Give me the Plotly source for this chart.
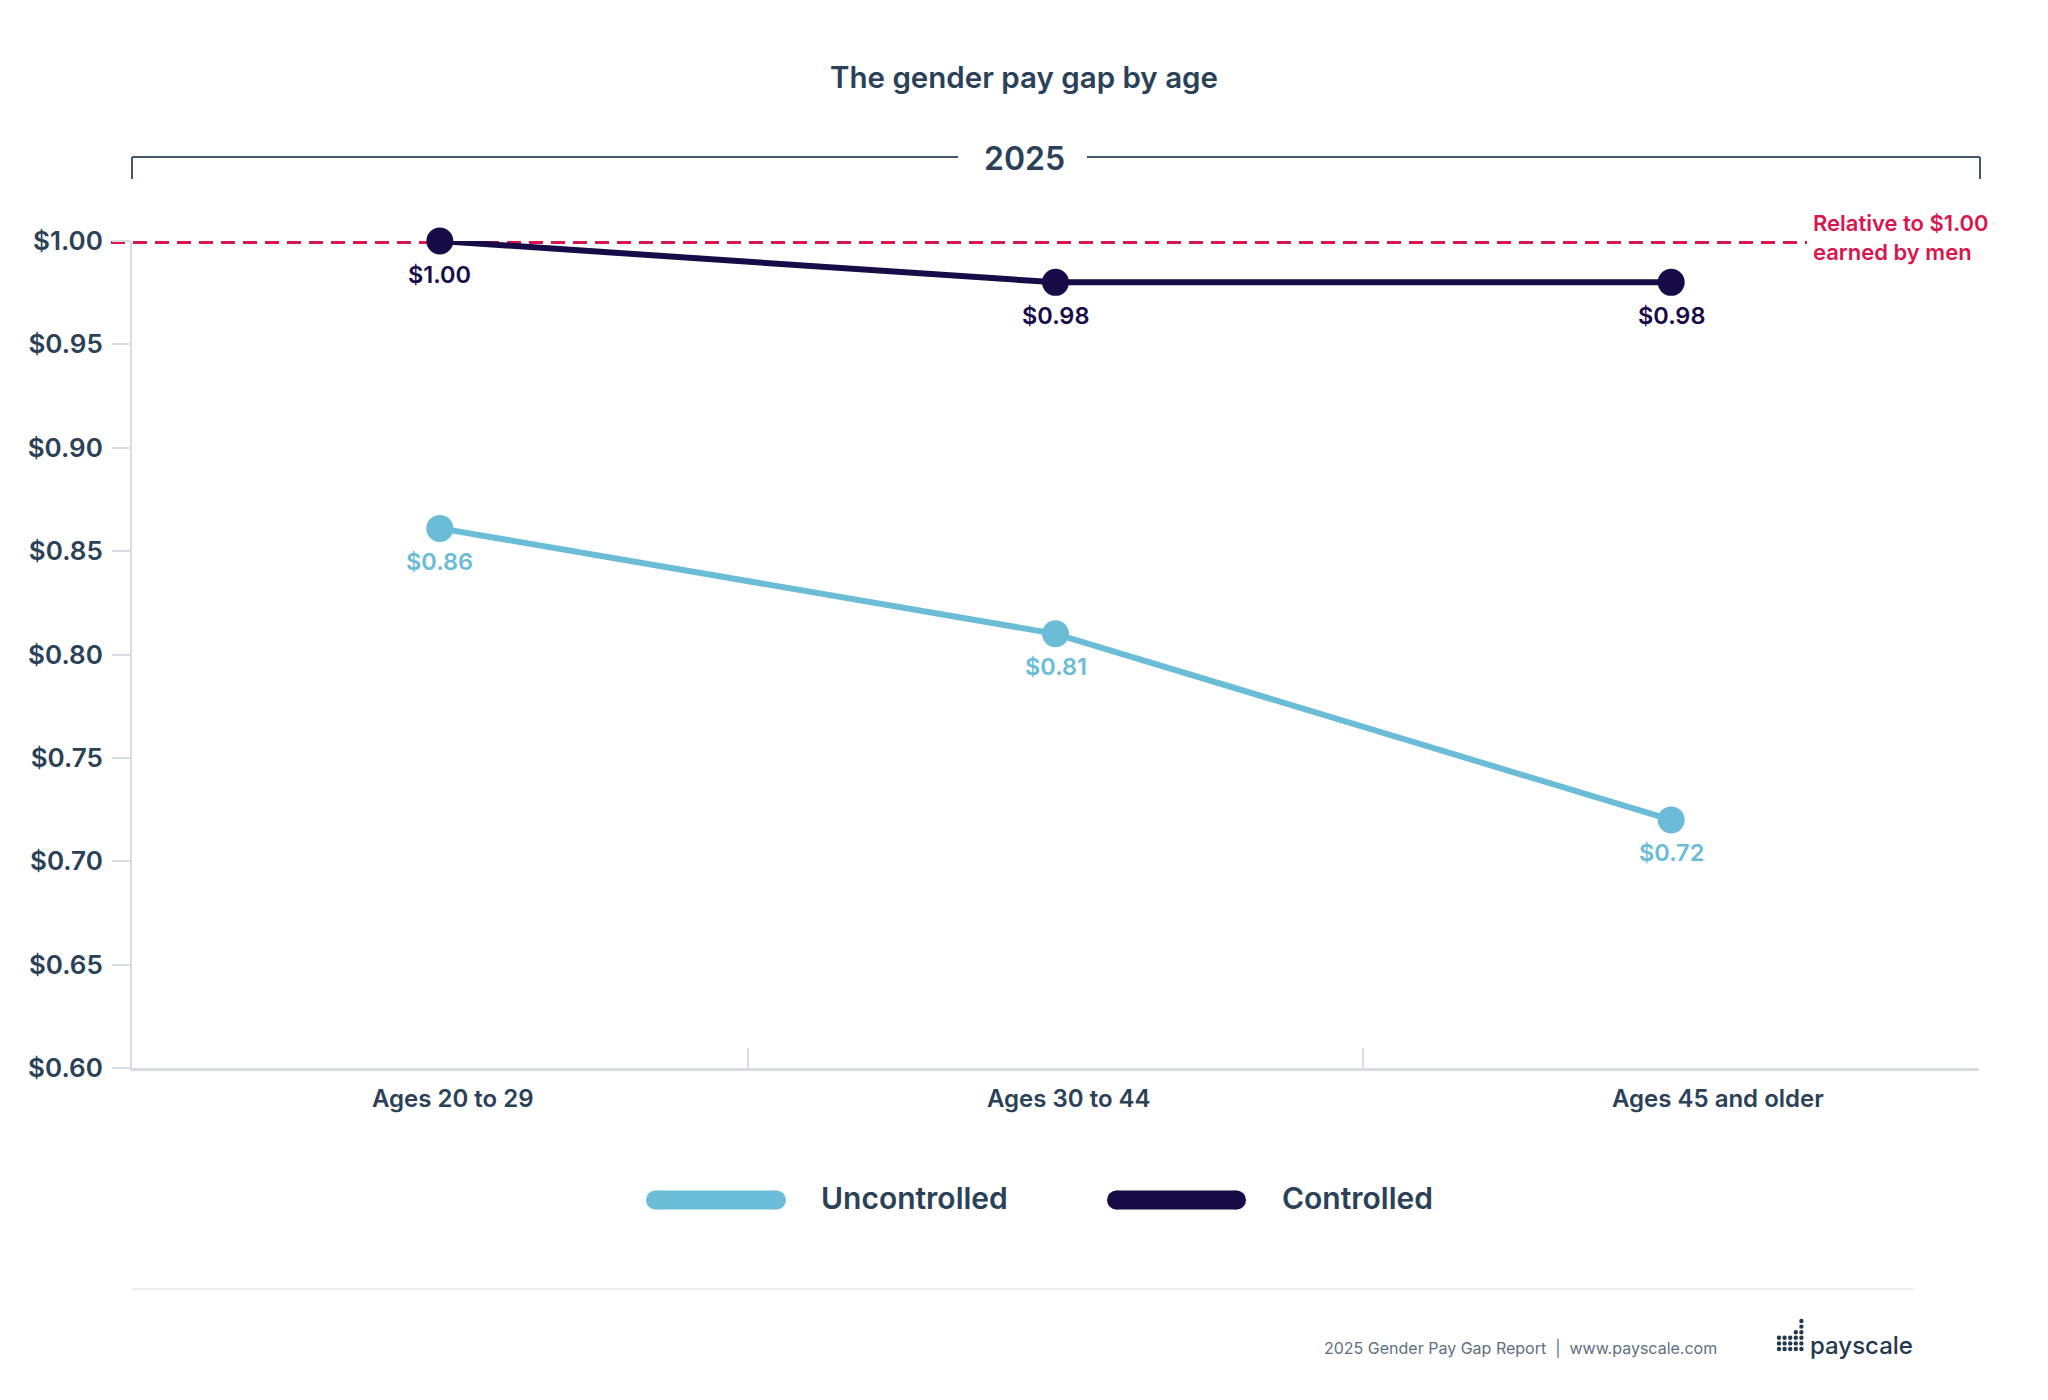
import plotly.graph_objects as go

# ---------------- data ----------------
categories = ["Ages 20 to 29", "Ages 30 to 44", "Ages 45 and older"]
uncontrolled = [0.861, 0.810, 0.720]
controlled = [1.00, 0.98, 0.98]
series_names = ["Uncontrolled", "Controlled"]
reference_value = 1.00
y_ticks = [0.60, 0.65, 0.70, 0.75, 0.80, 0.85, 0.90, 0.95, 1.00]
title_text = "The gender pay gap by age"
year_text = "2025"
reference_text = "Relative to $1.00<br>earned by men"
footer_text = "2025 Gender Pay Gap Report  |  www.payscale.com"
logo_text = "payscale"

# ---------------- styling ----------------
W, H = 2048, 1400
L, R, T, B = 132, 69, 241, 332
PW, PH = W - L - R, H - T - B

C_UNC = "#6bbcd6"
C_CON = "#170b48"
C_RED = "#d9154f"
C_TXT = "#2a4157"
C_AXIS = "#d8dce3"
FONT = "Inter"


def px(x):
    return (x - L) / PW


def py(y):
    return (H - B - y) / PH


xs = list(range(len(categories)))

fig = go.Figure()

for name, vals, col in [(series_names[0], uncontrolled, C_UNC), (series_names[1], controlled, C_CON)]:
    fig.add_trace(go.Scatter(
        x=xs, y=vals, name=name, mode="lines+markers",
        line=dict(color=col, width=6),
        marker=dict(color=col, size=27),
        cliponaxis=False, showlegend=False, hoverinfo="skip",
    ))

annotations = []
# data labels
for vals, col in [(uncontrolled, C_UNC), (controlled, C_CON)]:
    for x, v in zip(xs, vals):
        annotations.append(dict(
            x=x, y=v, xref="x", yref="y", text=f"${v:.2f}", showarrow=False,
            yshift=-33, font=dict(family=FONT, size=23.5, color=col, weight=600),
        ))

# category labels
cat_shift = [13, 13, 47]
for x, c, s in zip(xs, categories, cat_shift):
    annotations.append(dict(
        x=x, y=py(1098), xref="x", yref="paper", text=c, showarrow=False,
        xshift=s, yanchor="middle",
        font=dict(family=FONT, size=24, color=C_TXT, weight=600),
    ))

# year label
annotations.append(dict(
    x=px(1024), y=py(159), xref="paper", yref="paper", text=year_text,
    showarrow=False, yanchor="middle",
    font=dict(family=FONT, size=32, color=C_TXT, weight=600),
))

# reference label
annotations.append(dict(
    x=px(1811), y=py(238), xref="paper", yref="paper", text=reference_text,
    showarrow=False, xanchor="left", yanchor="middle", align="left",
    font=dict(family=FONT, size=22, color=C_RED, weight=600),
))

# legend texts
for name, xl in zip(series_names, [819, 1280]):
    annotations.append(dict(
        x=px(xl), y=py(1198), xref="paper", yref="paper", text=name,
        showarrow=False, xanchor="left", yanchor="middle",
        font=dict(family=FONT, size=30, color=C_TXT, weight=600),
    ))

# footer
annotations.append(dict(
    x=px(1719), y=py(1348), xref="paper", yref="paper", text=footer_text,
    showarrow=False, xanchor="right", yanchor="middle",
    font=dict(family=FONT, size=16, color="#5f6f80", weight=400),
))
annotations.append(dict(
    x=px(1808), y=py(1345), xref="paper", yref="paper", text=logo_text,
    showarrow=False, xanchor="left", yanchor="middle",
    font=dict(family=FONT, size=24, color="#24384e", weight=500),
))

shapes = []
# reference dotted line
shapes.append(dict(
    type="line", xref="paper", yref="y", x0=px(111), x1=px(1807),
    y0=reference_value, y1=reference_value, layer="below",
    line=dict(color=C_RED, width=6, dash="14px,8px"),
))
# bracket
BR = "#44586c"
for x0, x1 in [(132, 958), (1087, 1980)]:
    shapes.append(dict(type="line", xref="paper", yref="paper",
                       x0=px(x0), x1=px(x1), y0=py(157), y1=py(157),
                       line=dict(color=BR, width=2)))
for xv in [132, 1980]:
    shapes.append(dict(type="line", xref="paper", yref="paper",
                       x0=px(xv), x1=px(xv), y0=py(157), y1=py(179),
                       line=dict(color=BR, width=2)))

# legend swatches (pill shapes)
for (x0, x1), col in zip([(646, 786), (1107, 1246)], [C_UNC, C_CON]):
    r = 9.5
    yc = 1200
    shapes.append(dict(type="rect", xref="paper", yref="paper",
                       x0=px(x0 + r), x1=px(x1 - r), y0=py(yc - r), y1=py(yc + r),
                       fillcolor=col, line=dict(width=0)))
    for cx in [x0 + r, x1 - r]:
        shapes.append(dict(type="circle", xref="paper", yref="paper",
                           x0=px(cx - r), x1=px(cx + r), y0=py(yc - r), y1=py(yc + r),
                           fillcolor=col, line=dict(width=0)))

# footer separator
shapes.append(dict(type="line", xref="paper", yref="paper",
                   x0=px(132), x1=px(1914), y0=py(1289), y1=py(1289),
                   line=dict(color="#eceff1", width=2)))

# logo dots
col_x = [1779, 1784.6, 1790.2, 1795.8, 1801.4]
row_y = [1349, 1343.4, 1337.8, 1332.2, 1326.6, 1321]
col_h = [3, 3, 3, 4, 6]
for cx, h in zip(col_x, col_h):
    for ry in row_y[:h]:
        d = 2.2
        shapes.append(dict(type="circle", xref="paper", yref="paper",
                           x0=px(cx - d), x1=px(cx + d), y0=py(ry - d), y1=py(ry + d),
                           fillcolor="#24384e", line=dict(width=0)))

fig.update_layout(
    template="none",
    width=W, height=H,
    margin=dict(l=L, r=R, t=T, b=B, pad=0),
    paper_bgcolor="white", plot_bgcolor="white",
    showlegend=False,
    title=dict(text=title_text, x=0.5, xref="container", xanchor="center",
               y=1 - 78 / H, yref="container", yanchor="middle",
               font=dict(family=FONT, size=29.5, color=C_TXT, weight=600)),
    annotations=annotations,
    shapes=shapes,
    xaxis=dict(
        range=[-0.5, len(categories) - 0.5], showgrid=False, zeroline=False,
        showline=True, linecolor=C_AXIS, linewidth=3,
        tickvals=[i - 0.5 for i in range(len(categories) + 1)],
        ticks="inside", ticklen=20, tickwidth=2, tickcolor=C_AXIS,
        showticklabels=False, fixedrange=True,
    ),
    yaxis=dict(
        range=[y_ticks[0], y_ticks[-1]], showgrid=False, zeroline=False,
        showline=True, linecolor=C_AXIS, linewidth=2,
        tickvals=y_ticks, ticktext=[f"${v:.2f}" for v in y_ticks],
        ticks="outside", ticklen=18, tickwidth=2, tickcolor=C_AXIS,
        ticklabelstandoff=4,
        tickfont=dict(family=FONT, size=26, color=C_TXT, weight=600),
        fixedrange=True,
    ),
    font=dict(family=FONT),
)

fig.write_html("out.html")
